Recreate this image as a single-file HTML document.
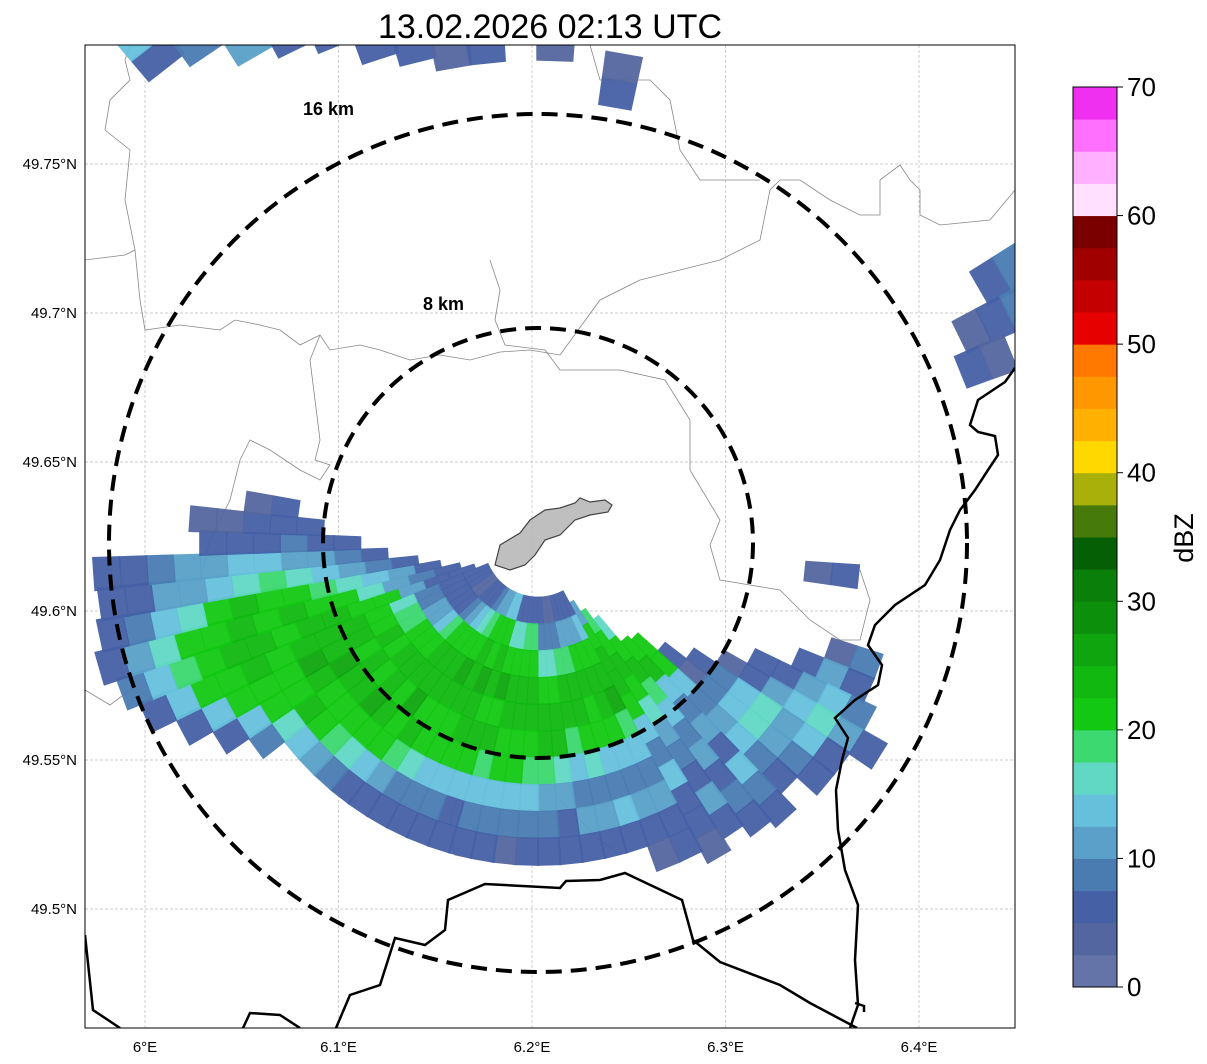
<!DOCTYPE html>
<html><head><meta charset="utf-8"><style>
html,body{margin:0;padding:0;background:#fff;}
svg{display:block;font-family:"Liberation Sans","DejaVu Sans",sans-serif;}
</style></head><body>
<svg id="chart" width="1207" height="1064" viewBox="0 0 1207 1064" xmlns="http://www.w3.org/2000/svg">
<text x="550" y="38" font-size="34" text-anchor="middle">13.02.2026 02:13 UTC</text>
<defs><clipPath id="mapclip"><rect x="85" y="45" width="930" height="983"/></clipPath></defs>
<g id="map" clip-path="url(#mapclip)">
<rect x="85" y="45" width="930" height="983" fill="#fff"/>
<g id="grid"></g>
<g fill="none" stroke="#888" stroke-width="0.8">
<path d="M130,45 L125,60 L130,80 L110,100 L105,130 L130,150 L125,200 L135,250 L125,255 L85,260"/>
<path d="M135,250 L140,300 L145,330 L180,325 L220,330 L235,320 L260,325 L280,330 L300,345 L320,335 L330,350 L360,345 L380,350 L410,360 L440,355 L470,360 L500,352 L530,350 L560,355"/>
<path d="M490,260 L500,290 L495,320 L505,345 L545,350 L560,370 L620,370 L665,380 L690,420 L690,470 L720,520 L710,545 L720,580 L750,585 L780,590 L810,620 L840,640 L860,640 L870,600 L860,570"/>
<path d="M560,355 L600,300 L640,280 L680,270 L720,260 L760,240 L770,190 L780,180 L800,180 L830,200 L860,215 L880,215 L880,180 L900,165 L910,180 L920,190 L920,215 L940,225 L990,220 L1015,190"/>
<path d="M590,45 L600,80 L650,80 L670,100 L680,150 L700,180 L760,180"/>
<path d="M320,335 L310,360 L315,400 L320,440 L315,460 L330,465 L320,480 L300,470 L270,450 L250,440 L240,460 L230,500 L210,540 L200,580"/>
<path d="M85,690 L110,705 L130,690 L160,700"/>
<path d="M460,790 L450,820 L455,855 L480,860"/>
<path d="M560,800 L580,820 L600,840 L620,855"/>
</g>
<g id="radar"></g>
<path d="M495,565 L500,545 L520,533 L530,520 L545,510 L560,508 L575,503 L580,498 L590,502 L605,500 L612,505 L608,512 L590,515 L575,520 L570,525 L560,535 L545,540 L535,555 L525,565 L510,570 Z" fill="#b4b4b4" fill-opacity="0.85" stroke="#444" stroke-width="1.2"/>
<g fill="none" stroke="#000" stroke-width="2.5">
<path d="M1015,368 L1005,382 L978,400 L970,425 L978,432 L995,436 L998,455 L988,470 L975,490 L960,510 L950,530 L940,560 L925,585 L895,605 L875,625 L868,645 L882,665 L878,685 L855,700 L835,718 L848,738 L842,760 L836,790 L838,830 L845,870 L858,905 L855,960 L858,1005 L850,1028"/>
<path d="M857,1028 L810,1003 L780,985 L720,962 L693,940 L682,900 L625,873 L600,880 L566,881 L560,888 L485,884 L448,900 L445,930 L425,945 L395,938 L380,985 L350,995 L336,1028"/>
<path d="M243,1028 L250,1013 L280,1015 L300,1028"/>
<path d="M85,935 L93,1010 L120,1028"/>
<path d="M855,1003 L864,1006 L864,1012"/>
</g>
<circle cx="538" cy="543" r="429" fill="none" stroke="#000" stroke-width="4" stroke-dasharray="16,9"/>
<circle cx="538" cy="543" r="215" fill="none" stroke="#000" stroke-width="4" stroke-dasharray="16,9"/>
<text x="303" y="115" font-size="18" font-weight="bold">16 km</text>
<text x="423" y="310" font-size="18" font-weight="bold">8 km</text>
</g>
<rect x="85" y="45" width="930" height="983" fill="none" stroke="#000" stroke-width="1"/>
<g id="xticks"></g>
<g id="yticks"></g>
<g id="cbar"></g>
<text x="1193" y="538" font-size="27" text-anchor="middle" transform="rotate(-90 1193 538)">dBZ</text>
</svg>
<script>
const lonTicks = [6.0, 6.1, 6.2, 6.3, 6.4];
const lonLabels = ["6°E", "6.1°E", "6.2°E", "6.3°E", "6.4°E"];
const latTicks = [49.75, 49.7, 49.65, 49.6, 49.55, 49.5];
const latLabels = ["49.75°N", "49.7°N", "49.65°N", "49.6°N", "49.55°N", "49.5°N"];
const cbarTicks = [0, 10, 20, 30, 40, 50, 60, 70];
const cbarColors = ["#6474a8","#53669f","#4560a5","#4a7cb2","#5aa0c8","#66c0dc","#60d8c4","#3cd870",
 "#12c812","#10b810","#0ea50e","#0c900c","#0a800a","#056005","#467a0a","#aab00a",
 "#ffd800","#ffb000","#ff9800","#ff7800","#e60000","#c40000","#a00000","#7a0000",
 "#ffe0ff","#ffb0ff","#ff70ff","#f030f0"];
// rays: azimuth (deg), start range (km), reflectivity per 1 km bin (dBZ)
const rayAz = [110,114,118,122,126,130,134,138,142,146,150,154,158,162,166,170,174,178,182,186,190,194,198,202,206,210,214,218,222,226,230,234,238,242,246,250,254,258,262,266,270,274,278,
 322,326,330,334,338,342,346,350,354,2,10,60,64,68,96];
const rayStart = [11.5,10.5,9,8,7,6,5,4.8,3.5,3,2.5,2,2,2,2,2,2,2,2,2,2,2,2,2,2,2,2,2,2,2,2,2,2,2,2,2.5,3,3.7,4.5,5.6,6.6,8,9,
 22.5,22,21,20.5,20,19,18.5,18,18,18,16.5,19,17.5,17,10];
const rayValues = [
 [4,8],[5,12,6],[5,7,12,14,8],[4,6,10,13,15,12,6],[5,8,13,15,12,14,5],[6,4,9,14,16,10,8,5],
 [22,22,14,8,12,14,9,5],[21,23,14,8,12,6,13,8,5],[16,22,24,19,13,8,12,6,9,5],[18,22,24,22,17,12,8,6,10,5],
 [12,21,24,23,20,14,9,13,7,5,4],[6,14,22,24,25,18,13,8,12,6,5],[5,12,21,24,23,20,13,9,12,6,4],
 [5,10,20,24,22,21,14,9,13,7],[5,10,19,23,24,22,15,8,11,5],[4,9,18,23,24,19,13,8,10,5],
 [4,8,16,22,24,23,17,10,7,6],[5,9,17,22,24,23,18,12,8,5],[6,18,21,23,24,22,19,13,8,5],
 [7,19,22,24,23,22,20,13,8,4],[6,17,22,24,23,21,20,14,9,5],[5,16,21,25,22,24,19,14,8,6],
 [14,20,23,24,22,23,20,13,7,5],[13,20,22,25,23,24,21,13,8,5],[12,20,23,24,23,22,21,14,8,5],
 [10,19,22,25,23,22,21,15,9,5],[8,16,22,24,23,22,23,19,12,6],[6,14,21,24,23,25,22,20,14,7],
 [5,12,20,23,24,22,24,21,15,8],[5,9,18,22,24,23,25,22,18,10],[4,7,14,21,23,22,24,22,20,13],
 [4,6,12,20,22,24,23,22,24,16,9],[5,7,10,19,23,22,25,23,22,20,14,7],[5,6,9,18,22,24,23,25,22,21,20,13,7],
 [5,6,8,15,22,24,23,24,22,23,21,20,13,7],[5,7,12,20,21,23,24,22,23,24,21,19,14,8],
 [6,9,12,16,20,22,23,21,23,22,20,17,12,7],[6,10,13,15,18,21,22,23,20,16,13,9,6],
 [6,9,11,13,16,19,17,14,12,10,7,5],[5,8,10,12,13,14,12,10,8,6,5],[5,6,8,7,6,5],[5,6,5,4,4],[5,4],
 [6,14],[8,20,12],[10,14,6],[6,12,5],[7,10,4],[5,12,8],[6,10,5],[4,8],[5],[4],[5,4],[5,8],[4,6,9],[5,4],[4,5]
];
const NS = "http://www.w3.org/2000/svg";
const cx = 538, cy = 543, pxPerKm = 26.8;
function xOfLon(lon){ return 145 + (lon - 6.0) * 1935; }
function yOfLat(lat){ return 164 + (49.75 - lat) * 2980; }
function yOfDbz(v){ return 987 - v * (900 / 70); }
function colorOf(v){ let i = Math.floor(v / 2.5); if (i < 0) i = 0; if (i > 27) i = 27; return cbarColors[i]; }
function polar(az, r){ const a = az * Math.PI / 180; return [cx + Math.sin(a) * r * pxPerKm, cy - Math.cos(a) * r * pxPerKm]; }
function mk(tag, attrs, parent){ const e = document.createElementNS(NS, tag); for (const k in attrs) e.setAttribute(k, attrs[k]); parent.appendChild(e); return e; }

const grid = document.getElementById('grid');
const xt = document.getElementById('xticks');
const yt = document.getElementById('yticks');
lonTicks.forEach((lon, i) => {
  const x = xOfLon(lon);
  const l = mk('line', {x1:x, y1:45, x2:x, y2:1028, stroke:'#bbb', 'stroke-width':0.7, 'stroke-dasharray':'3,2'}, grid);
  
  
  const t = mk('text', {x:x, y:1052, 'font-size':15, 'text-anchor':'middle'}, xt);
  t.textContent = lonLabels[i];
  
  
});
latTicks.forEach((lat, i) => {
  const y = yOfLat(lat);
  const l = mk('line', {x1:85, y1:y, x2:1015, y2:y, stroke:'#bbb', 'stroke-width':0.7, 'stroke-dasharray':'3,2'}, grid);
  
  
  const t = mk('text', {x:77, y:y + 5, 'font-size':15, 'text-anchor':'end'}, yt);
  t.textContent = latLabels[i];
  
  
});

const radar = document.getElementById('radar');
rayAz.forEach((az, i) => {
  const vals = rayValues[i];
  vals.forEach((v, j) => {
    const r0 = rayStart[i] + j, r1 = r0 + 1.05;
    const p = [polar(az - 2.2, r0), polar(az + 2.2, r0), polar(az + 2.2, r1), polar(az - 2.2, r1)];
    const poly = mk('polygon', {points: p.map(q => q[0].toFixed(1) + ',' + q[1].toFixed(1)).join(' '), fill: colorOf(v), 'fill-opacity': 0.95}, radar);
    
    
  });
});

const cbar = document.getElementById('cbar');
cbarColors.forEach((c, i) => {
  const y1 = yOfDbz((i + 1) * 2.5), y0 = yOfDbz(i * 2.5);
  const r = mk('rect', {x:1073, y:y1, width:44, height:(y0 - y1) + 0.5, fill:c}, cbar);
  
  
});
const fr = mk('rect', {x:1073, y:87, width:44, height:900, fill:'none', stroke:'#000', 'stroke-width':1}, cbar);


cbarTicks.forEach(v => {
  const y = yOfDbz(v);
  const tk = mk('line', {x1:1117, y1:y, x2:1123, y2:y, stroke:'#000'}, cbar);
  
  
  const t = mk('text', {x:1127, y:y + 9, 'font-size':26}, cbar);
  t.textContent = String(v);
  
  
});
</script>
</body></html>
